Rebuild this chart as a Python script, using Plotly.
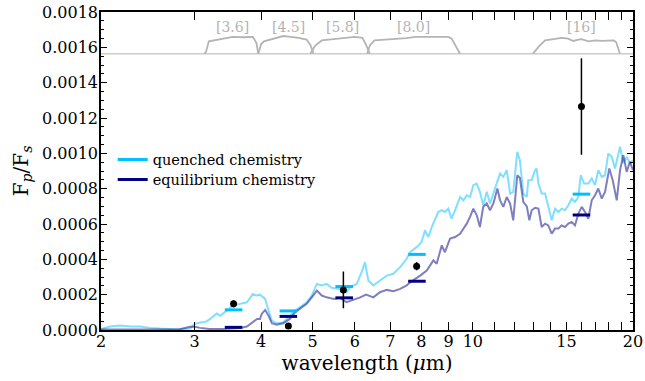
import math
import plotly.graph_objects as go

# ---------------- data ----------------
wl_quenched = [2.00, 2.08, 2.17, 2.27, 2.37, 2.47, 2.58, 2.70, 2.82, 2.94, 3.00, 3.07, 3.14, 3.21, 3.30,
               3.35, 3.45, 3.54, 3.65, 3.76, 3.86, 3.92, 3.98, 4.07, 4.13, 4.19, 4.28, 4.40, 4.53, 4.63,
               4.73, 4.87, 4.98, 5.09, 5.20, 5.31, 5.43, 5.55, 5.71, 5.79, 5.88, 6.05, 6.18, 6.27, 6.36,
               6.50, 6.69, 6.89, 7.09, 7.30, 7.51, 7.62, 7.84, 8.01, 8.13, 8.25, 8.37, 8.49, 8.61, 8.74,
               8.86, 8.99, 9.12, 9.26, 9.46, 9.60, 9.74, 9.88, 10.02, 10.17, 10.31, 10.46, 10.62, 10.77,
               10.99, 11.25, 11.41, 11.58, 11.75, 11.91, 12.12, 12.26, 12.44, 12.63, 12.71, 12.90, 13.09,
               13.18, 13.28, 13.47, 13.67, 13.86, 14.07, 14.27, 14.48, 14.69, 14.90, 15.12, 15.34, 15.56,
               15.79, 15.95, 16.18, 16.48, 16.73, 16.97, 17.21, 17.47, 17.72, 17.97, 18.24, 18.50, 18.91,
               19.18, 19.46, 19.74, 20.00]
fp_quenched = [0.000005, 0.000020, 0.000025, 0.000020, 0.000020, 0.000012, 0.000008, 0.000005, 0.000003,
               0.000008, 0.000034, 0.000043, 0.000045, 0.0000625, 0.000094, 0.000081, 0.000110, 0.000138,
               0.000148, 0.000157, 0.000204, 0.000195, 0.000200, 0.000176, 0.000110, 0.000053, 0.000038,
               0.000043, 0.000081, 0.000110, 0.000128, 0.000157, 0.000195, 0.000261, 0.000252, 0.000261,
               0.000239, 0.000233, 0.000235, 0.000214, 0.000242, 0.000261, 0.000327, 0.000384, 0.000280,
               0.000252, 0.000280, 0.000308, 0.000318, 0.000356, 0.000403, 0.000440, 0.000469, 0.000498,
               0.000564, 0.000526, 0.000583, 0.000621, 0.000668, 0.000678, 0.000668, 0.000687, 0.000630,
               0.000678, 0.000753, 0.000734, 0.000763, 0.000753, 0.000820, 0.000829, 0.000782, 0.000706,
               0.000782, 0.000716, 0.000791, 0.000886, 0.000867, 0.000905, 0.000772, 0.000782, 0.001009,
               0.000960, 0.000772, 0.000753, 0.000848, 0.000848, 0.000905, 0.000914, 0.000829, 0.000772,
               0.000772, 0.000697, 0.000621, 0.000687, 0.000668, 0.000687, 0.000678, 0.000706, 0.000744,
               0.000725, 0.000753, 0.000876, 0.000829, 0.000829, 0.000858, 0.000820, 0.000905, 0.000867,
               0.000876, 0.001000, 0.000980, 0.000914, 0.001037, 0.000943, 0.000980, 0.000943, 0.000962]

wl_equil = [2.00, 2.20, 2.50, 2.80, 2.94, 3.00, 3.07, 3.20, 3.40, 3.65, 3.76, 3.86, 3.93, 3.98, 4.01, 4.07,
            4.13, 4.19, 4.28, 4.40, 4.53, 4.63, 4.76, 4.87, 4.98, 5.09, 5.20, 5.31, 5.48, 5.63, 5.79, 5.96,
            6.14, 6.30, 6.50, 6.69, 6.89, 7.09, 7.30, 7.51, 7.62, 7.96, 8.19, 8.43, 8.55, 8.74, 8.86, 9.06,
            9.26, 9.46, 9.60, 9.74, 9.88, 10.02, 10.17, 10.31, 10.46, 10.62, 10.77, 10.93, 11.12, 11.25,
            11.41, 11.58, 11.75, 11.91, 12.12, 12.26, 12.44, 12.63, 12.77, 12.90, 13.09, 13.28, 13.47,
            13.67, 13.86, 14.07, 14.27, 14.48, 14.69, 14.90, 15.12, 15.34, 15.56, 15.79, 16.02, 16.25,
            16.48, 16.73, 16.97, 17.21, 17.47, 17.72, 18.05, 18.32, 18.64, 18.91, 19.18, 19.46, 19.74, 20.00]
fp_equil = [0.000003, 0.000003, 0.000002, 0.000003, 0.0000187, 0.000018, 0.000012, 0.000006, 0.000006,
            0.000011, 0.000020, 0.000043, 0.0000625, 0.0000625, 0.000091, 0.000114, 0.000081, 0.000038,
            0.000030, 0.000038, 0.0000625, 0.000100, 0.000128, 0.000148, 0.000185, 0.000223, 0.000195,
            0.000185, 0.000176, 0.000182, 0.000157, 0.000170, 0.000185, 0.000200, 0.000185, 0.000214,
            0.000227, 0.000219, 0.000233, 0.000252, 0.000270, 0.000308, 0.000337, 0.000394, 0.000375,
            0.000479, 0.000440, 0.000517, 0.000526, 0.000545, 0.000574, 0.000602, 0.000640, 0.000687,
            0.000649, 0.000583, 0.000697, 0.000716, 0.000678, 0.000716, 0.000801, 0.000734, 0.000697,
            0.000753, 0.000716, 0.000621, 0.000876, 0.000860, 0.000725, 0.000700, 0.000621, 0.000678,
            0.000692, 0.000687, 0.000583, 0.000602, 0.000592, 0.000545, 0.000574, 0.000574, 0.000592,
            0.000583, 0.000602, 0.000611, 0.000592, 0.000659, 0.000697, 0.000668, 0.000630, 0.000734,
            0.000763, 0.000801, 0.000744, 0.000782, 0.000914, 0.000848, 0.000734, 0.000905, 0.000990,
            0.000895, 0.000952, 0.000905]

# band-integrated model points
band_center = [3.55, 4.50, 5.73, 7.85, 16.0]
band_quenched = [0.000114, 0.000108, 0.000246, 0.000428, 0.000769]
band_equil = [0.000015, 0.000077, 0.000182, 0.000276, 0.000651]

# observed eclipse depths
obs_wl = [3.55, 4.50, 5.71, 7.84, 16.0]
obs_fp = [0.000148, 0.000023, 0.000227, 0.000361, 0.001265]
obs_err = [0.000020, 0.000012, 0.000104, 0.000023, 0.000273]

# filter transmission curves (relative)
filters = {
    "[3.6]": ([3.13, 3.15, 3.19, 3.30, 3.45, 3.54, 3.70, 3.86, 3.92, 3.95],
              [0.0, 0.1, 0.70, 0.78, 0.85, 0.95, 0.93, 0.95, 0.60, 0.0]),
    "[4.5]": ([3.95, 4.00, 4.05, 4.15, 4.30, 4.40, 4.55, 4.70, 4.87, 4.95, 5.02],
              [0.0, 0.55, 0.70, 0.80, 0.92, 1.00, 0.95, 0.90, 0.80, 0.50, 0.0]),
    "[5.8]": ([4.95, 5.05, 5.20, 5.50, 5.80, 6.00, 6.20, 6.30, 6.40],
              [0.0, 0.45, 0.75, 0.82, 0.90, 0.95, 0.90, 0.50, 0.0]),
    "[8.0]": ([6.33, 6.40, 6.53, 7.00, 7.50, 7.80, 8.40, 9.00, 9.12, 9.30, 9.46],
              [0.0, 0.45, 0.75, 0.80, 0.88, 0.95, 0.97, 0.95, 0.85, 0.40, 0.0]),
    "[16]": ([12.97, 13.30, 13.67, 14.20, 14.70, 15.10, 15.45, 15.80, 16.00, 16.50, 17.00, 17.50, 18.00, 18.40, 18.60, 18.90],
             [0.0, 0.40, 0.75, 0.82, 0.90, 0.85, 0.72, 0.80, 0.82, 0.70, 0.75, 0.72, 0.75, 0.75, 0.65, 0.0]),
}
filter_label_wl = {"[3.6]": 3.54, "[4.5]": 4.50, "[5.8]": 5.70, "[8.0]": 7.72, "[16]": 16.0}

x_tickvals = [2, 3, 4, 5, 6, 7, 8, 9, 10, 11, 12, 13, 14, 15, 16, 17, 18, 19, 20]
x_ticktext = ["2", "3", "4", "5", "6", "7", "8", "9", "10", "", "", "", "", "15", "", "", "", "", "20"]
y_tickvals = [0, 0.0002, 0.0004, 0.0006, 0.0008, 0.0010, 0.0012, 0.0014, 0.0016, 0.0018]

FILTER_BASE = 0.001564
FILTER_SCALE = 0.0001
FONT = "DejaVu Serif"

# ---------------- figure ----------------
fig = go.Figure()

# filter baseline + curves
fig.add_trace(go.Scatter(x=[2, 20], y=[FILTER_BASE, FILTER_BASE], mode="lines",
                         line=dict(color="#cccccc", width=1.5), showlegend=False, hoverinfo="skip"))
for name, (fw, ft) in filters.items():
    fig.add_trace(go.Scatter(x=fw, y=[FILTER_BASE + FILTER_SCALE * t for t in ft], mode="lines",
                             line=dict(color="#b4b4b4", width=1.8), showlegend=False))
    fig.add_annotation(x=math.log10(filter_label_wl[name]), y=FILTER_BASE + 1.5 * FILTER_SCALE,
                       text=name, showarrow=False, xref="x", yref="y",
                       font=dict(family=FONT, size=14, color="#b4b4b4"))

# model spectra
fig.add_trace(go.Scatter(x=wl_quenched, y=fp_quenched, mode="lines",
                         line=dict(color="rgba(0,191,255,0.5)", width=2), showlegend=False))
fig.add_trace(go.Scatter(x=wl_equil, y=fp_equil, mode="lines",
                         line=dict(color="rgba(0,0,128,0.5)", width=2), showlegend=False))

# band-integrated bars
half = 10 ** 0.0165
def seg(centers, vals):
    xs, ys = [], []
    for c, v in zip(centers, vals):
        xs += [c / half, c * half, None]
        ys += [v, v, None]
    return xs, ys

bx, by = seg(band_center, band_quenched)
fig.add_trace(go.Scatter(x=bx, y=by, mode="lines", line=dict(color="#00bfff", width=3),
                         name="quenched chemistry", legend="legend"))
bx, by = seg(band_center, band_equil)
fig.add_trace(go.Scatter(x=bx, y=by, mode="lines", line=dict(color="#000080", width=3),
                         name="equilibrium chemistry", legend="legend2"))

# observations
fig.add_trace(go.Scatter(x=obs_wl, y=obs_fp, mode="markers",
                         marker=dict(color="black", size=7),
                         error_y=dict(type="data", array=obs_err, color="black", thickness=1.5, width=0),
                         showlegend=False))

leg_common = dict(xanchor="left", yanchor="middle", bgcolor="rgba(0,0,0,0)",
                  font=dict(family=FONT, size=14.5), itemwidth=30)

fig.update_layout(
    width=645, height=381,
    margin=dict(l=101, r=12, t=12, b=51),
    paper_bgcolor="white", plot_bgcolor="white",
    font=dict(family=FONT, color="black", size=16),
    showlegend=True,
    legend=dict(x=0.022, y=0.536, **leg_common),
    legend2=dict(x=0.022, y=0.473, **leg_common),
    xaxis=dict(type="log", range=[math.log10(2), math.log10(20)], automargin=False,
               tickvals=x_tickvals, ticktext=x_ticktext,
               ticks="inside", ticklen=8, tickwidth=1.2, tickcolor="black",
               ticklabelstandoff=-4,
               showline=True, linecolor="black", linewidth=1.5, mirror="allticks",
               showgrid=False, zeroline=False,
               tickfont=dict(family=FONT, size=16),
               title=dict(text="wavelength (<i>μ</i>m)", font=dict(family=FONT, size=20), standoff=1)),
    yaxis=dict(range=[0, 0.0018], tickvals=y_tickvals, automargin=False,
               tickformat=".4f",
               ticks="inside", ticklen=6, tickwidth=1.2, tickcolor="black",
               ticklabelstandoff=-2,
               minor=dict(dtick=0.00005, ticks="inside", ticklen=3.5, tickwidth=1, tickcolor="black"),
               showline=True, linecolor="black", linewidth=1.5, mirror="allticks",
               showgrid=False, zeroline=False,
               tickfont=dict(family=FONT, size=16),
               title=dict(text="F<sub><i>p</i></sub>/F<sub><i>s</i></sub>", font=dict(family=FONT, size=20), standoff=8)),
)

fig.write_html("out.html")
